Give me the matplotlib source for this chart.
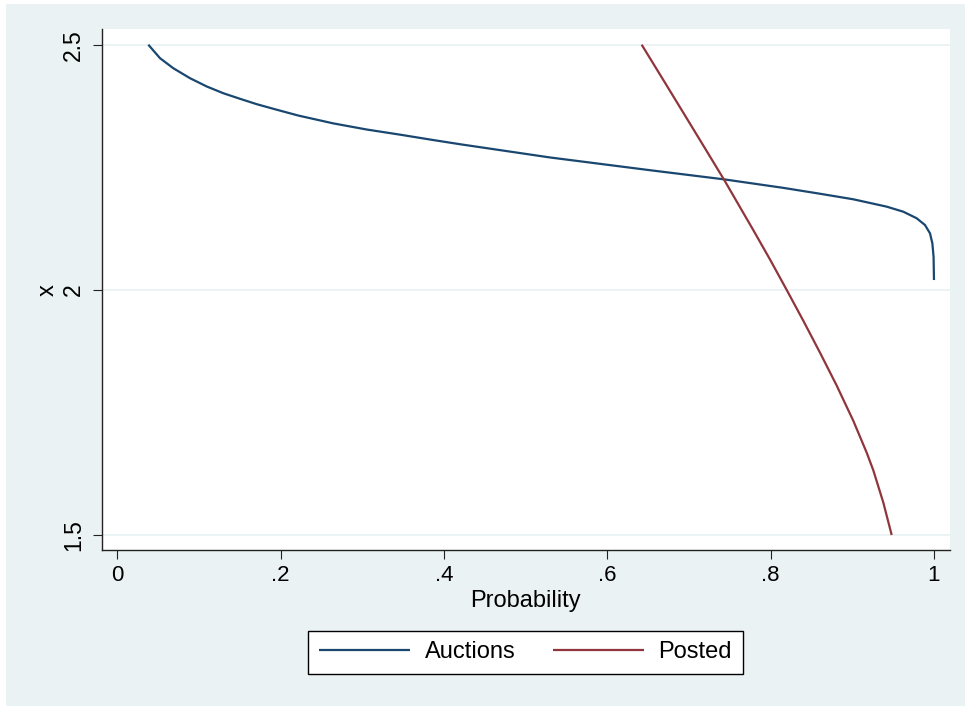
import matplotlib
matplotlib.use("Agg")
import matplotlib.pyplot as plt
from matplotlib.patches import Rectangle

plt.rcParams['font.family'] = ['Liberation Sans', 'DejaVu Sans']

auctions_p = [0.038, 0.0523, 0.0686, 0.089, 0.1095, 0.1298, 0.1502, 0.1707, 0.191,
              0.2216, 0.2645, 0.3054, 0.3462, 0.387, 0.4196, 0.5298, 0.6523, 0.7432,
              0.8155, 0.8604, 0.9012, 0.942, 0.9624, 0.9788, 0.989, 0.9951, 0.998,
              0.9995, 1.0]
auctions_x = [2.5, 2.4725, 2.452, 2.4317, 2.4148, 2.401, 2.3897, 2.3787, 2.3693,
              2.3555, 2.3395, 2.327, 2.3165, 2.3055, 2.297, 2.270, 2.244, 2.2253,
              2.208, 2.196, 2.1847, 2.1697, 2.1594, 2.146, 2.1322, 2.1153, 2.095,
              2.0677, 2.02]
posted_p = [0.6421, 0.6686, 0.6972, 0.7217, 0.7432, 0.7787, 0.7992, 0.8196, 0.84,
            0.8604, 0.8808, 0.9012, 0.9176, 0.9257, 0.938, 0.9482]
posted_x = [2.5, 2.428, 2.35, 2.283, 2.224, 2.122, 2.062, 2.0, 1.937,
            1.872, 1.805, 1.733, 1.668, 1.632, 1.566, 1.5]

xticks = [0, 0.2, 0.4, 0.6, 0.8, 1.0]
xticklabels = ['0', '.2', '.4', '.6', '.8', '1']
yticks = [1.5, 2, 2.5]
yticklabels = ['1.5', '2', '2.5']

navy = '#1A476F'
maroon = '#90353B'
bg = '#EAF2F3'

W, H = 965, 706
fig = plt.figure(figsize=(W / 100, H / 100), dpi=100, facecolor='white')
# Stata style graph region (small white strip at left/top)
fig.add_artist(Rectangle((6 / W, 0), 1 - 6 / W, 1 - 4 / H, transform=fig.transFigure,
                         facecolor=bg, edgecolor='none', zorder=-10))

ax = fig.add_axes([102 / W, 1 - 550 / H, (949.5 - 102) / W, (550 - 29) / H])
ax.set_facecolor('white')

ax.plot(auctions_p, auctions_x, color=navy, lw=1.6, label='Auctions', zorder=3,
        solid_joinstyle='round', solid_capstyle='butt')
ax.plot(posted_p, posted_x, color=maroon, lw=1.6, label='Posted', zorder=3,
        solid_joinstyle='round', solid_capstyle='butt')

ax.set_xlim(-0.0187, 1.019)
ax.set_ylim(1.4694, 2.532)

ax.set_xticks(xticks)
ax.set_xticklabels(xticklabels, fontsize=16)
ax.set_yticks(yticks)
ax.set_yticklabels(yticklabels, fontsize=16.5, rotation=90, va='center')
ax.tick_params(axis='both', direction='out', length=6.6, width=0.8, color='#222222')
ax.tick_params(axis='x', pad=4.0)
ax.tick_params(axis='y', pad=5.5)

ax.grid(axis='y', color=bg, lw=1.3)
ax.set_axisbelow(True)

for s in ['top', 'right']:
    ax.spines[s].set_visible(False)
for s in ['left', 'bottom']:
    ax.spines[s].set_color('#222222')
    ax.spines[s].set_linewidth(1.0)

ax.set_xlabel('Probability', fontsize=17)
ax.xaxis.set_label_coords(0.5, -0.077)
ax.set_ylabel('x', fontsize=17)
ax.yaxis.set_label_coords(-0.0507, 0.499)

leg = fig.legend(loc='center', bbox_to_anchor=(525.5 / W, 1 - 652.5 / H), ncol=2,
                 fontsize=17, frameon=True, fancybox=False, shadow=False, framealpha=1,
                 edgecolor='black', handlelength=3.85, handletextpad=0.62,
                 columnspacing=1.6, borderpad=0.45)
leg.get_frame().set_linewidth(1.0)

fig.savefig('out.png', dpi=100, facecolor='white')
